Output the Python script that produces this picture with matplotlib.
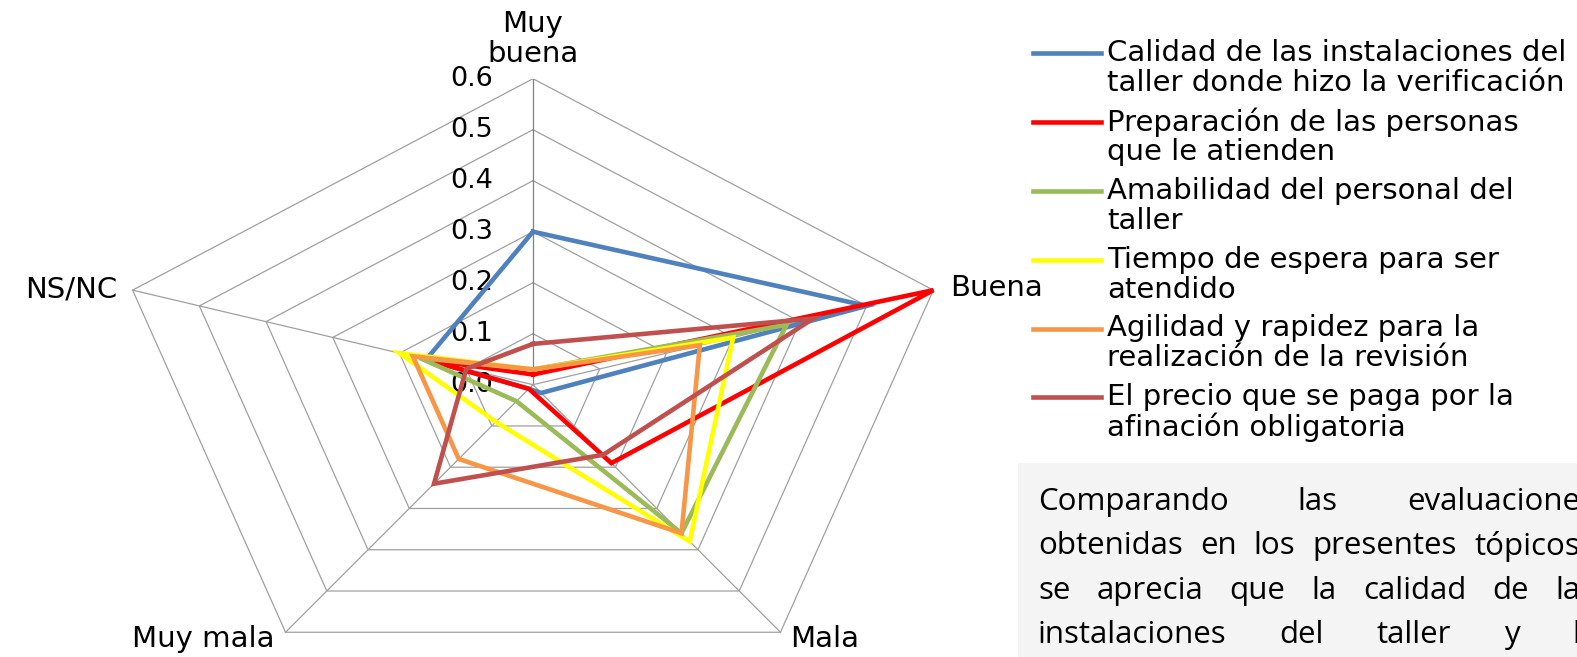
import numpy as np
import matplotlib.pyplot as plt
from matplotlib.lines import Line2D
from matplotlib.patches import Rectangle

# axes of the radar, clockwise from the top
categories = ["Muy\nbuena", "Buena", "Mala", "Muy mala", "NS/NC"]
ticks = [0.0, 0.1, 0.2, 0.3, 0.4, 0.5, 0.6]
tick_labels = ["0.0", "0.1", "0.2", "0.3", "0.4", "0.5", "0.6"]

series_names = [
    "Calidad de las instalaciones del\ntaller donde hizo la verificación",
    "Preparación de las personas\nque le atienden",
    "Amabilidad del personal del\ntaller",
    "Tiempo de espera para ser\natendido",
    "Agilidad y rapidez para la\nrealización de la revisión",
    "El precio que se paga por la\nafinación obligatoria",
]
calidad = [0.30, 0.50, 0.02, 0.01, 0.16]
preparacion = [0.02, 0.60, 0.19, 0.01, 0.16]
amabilidad = [0.03, 0.38, 0.36, 0.04, 0.17]
tiempo = [0.03, 0.30, 0.38, 0.09, 0.20]
agilidad = [0.03, 0.25, 0.36, 0.18, 0.18]
precio = [0.08, 0.42, 0.17, 0.24, 0.10]
series = [calidad, preparacion, amabilidad, tiempo, agilidad, precio]
colors = ["#4F81BD", "#FF0000", "#9BBB59", "#FFFF00", "#F79646", "#C0504D"]

paragraph = [
    ["Comparando", "las", "evaluacione"],
    ["obtenidas", "en", "los", "presentes", "tópicos"],
    ["se", "aprecia", "que", "la", "calidad", "de", "la"],
    ["instalaciones", "del", "taller", "y", "l"],
]

W, H = 1577, 657
angles = np.deg2rad(np.arange(len(categories)) * 72.0)


def to_xy(values):
    v = np.append(values, values[0])
    a = np.append(angles, angles[0])
    return v * np.sin(a), v * np.cos(a)


def fx(px):
    return px / W


def fy(py):
    return 1 - py / H


fig = plt.figure(figsize=(W / 100, H / 100), dpi=100)
ax = fig.add_axes([fx(112), fy(690.7), (954 - 112) / W, 612 / H])
ax.set_xlim(-0.6, 0.6)
ax.set_ylim(-0.6, 0.6)
ax.axis("off")

# pentagon grid and spokes
for r in ticks[1:]:
    gx, gy = to_xy([r] * len(categories))
    ax.plot(gx, gy, color="#A0A0A0", lw=0.9, zorder=1)
for i, a in enumerate(angles):
    ax.plot([0, 0.6 * np.sin(a)], [0, 0.6 * np.cos(a)],
            color="#808080" if i == 0 else "#A0A0A0", lw=0.9, zorder=1)

for t, lab in zip(ticks, tick_labels):
    ax.text(-0.057, t, lab, ha="right", va="center", fontsize=19.5,
            family="DejaVu Sans", zorder=2)

for vals, c in zip(series, colors):
    sx, sy = to_xy(vals)
    ax.plot(sx, sy, color=c, lw=3.3, solid_joinstyle="miter", zorder=3)

# category labels
lab_kw = dict(fontsize=21, family="DejaVu Sans", clip_on=False)
ax.text(0.0, 0.678, categories[0], ha="center", va="center",
        linespacing=1.1, **lab_kw)
ax.text(0.594, 0.19, categories[1], ha="left", va="center", **lab_kw)
ax.text(0.366, -0.515, categories[2], ha="left", va="baseline", **lab_kw)
ax.text(-0.5715, -0.515, categories[3], ha="left", va="baseline", **lab_kw)
ax.text(-0.5926, 0.1875, categories[4], ha="right", va="center", **lab_kw)

# legend
for i, (name, c) in enumerate(zip(series_names, colors)):
    y0 = 53.3 + i * 68.8
    fig.add_artist(Line2D([fx(1033), fx(1101)], [fy(y0), fy(y0)],
                          color=c, lw=3.3, transform=fig.transFigure))
    for j, line in enumerate(name.split("\n")):
        fig.text(fx(1107), fy(y0 + j * 30), line, ha="left", va="center",
                 fontsize=21, family="DejaVu Sans")

# comment box with justified text
fig.add_artist(Rectangle((fx(1018), 0), (W - 1018) / W, (657 - 463) / H,
                         transform=fig.transFigure, facecolor="#F4F4F4",
                         edgecolor="none", zorder=0))
renderer = fig.canvas.get_renderer()
left, right = 1038, 1580
for k, words in enumerate(paragraph):
    yl = 502 + k * 44.3
    texts = [fig.text(0, fy(yl), w, ha="left", va="center", fontsize=22.5,
                      family="Open Sans") for w in words]
    widths = [t.get_window_extent(renderer).width for t in texts]
    gap = (right - left - sum(widths)) / (len(words) - 1)
    x = left
    for t, wd in zip(texts, widths):
        t.set_x(fx(x))
        x += wd + gap

fig.savefig("out.png", dpi=100)
